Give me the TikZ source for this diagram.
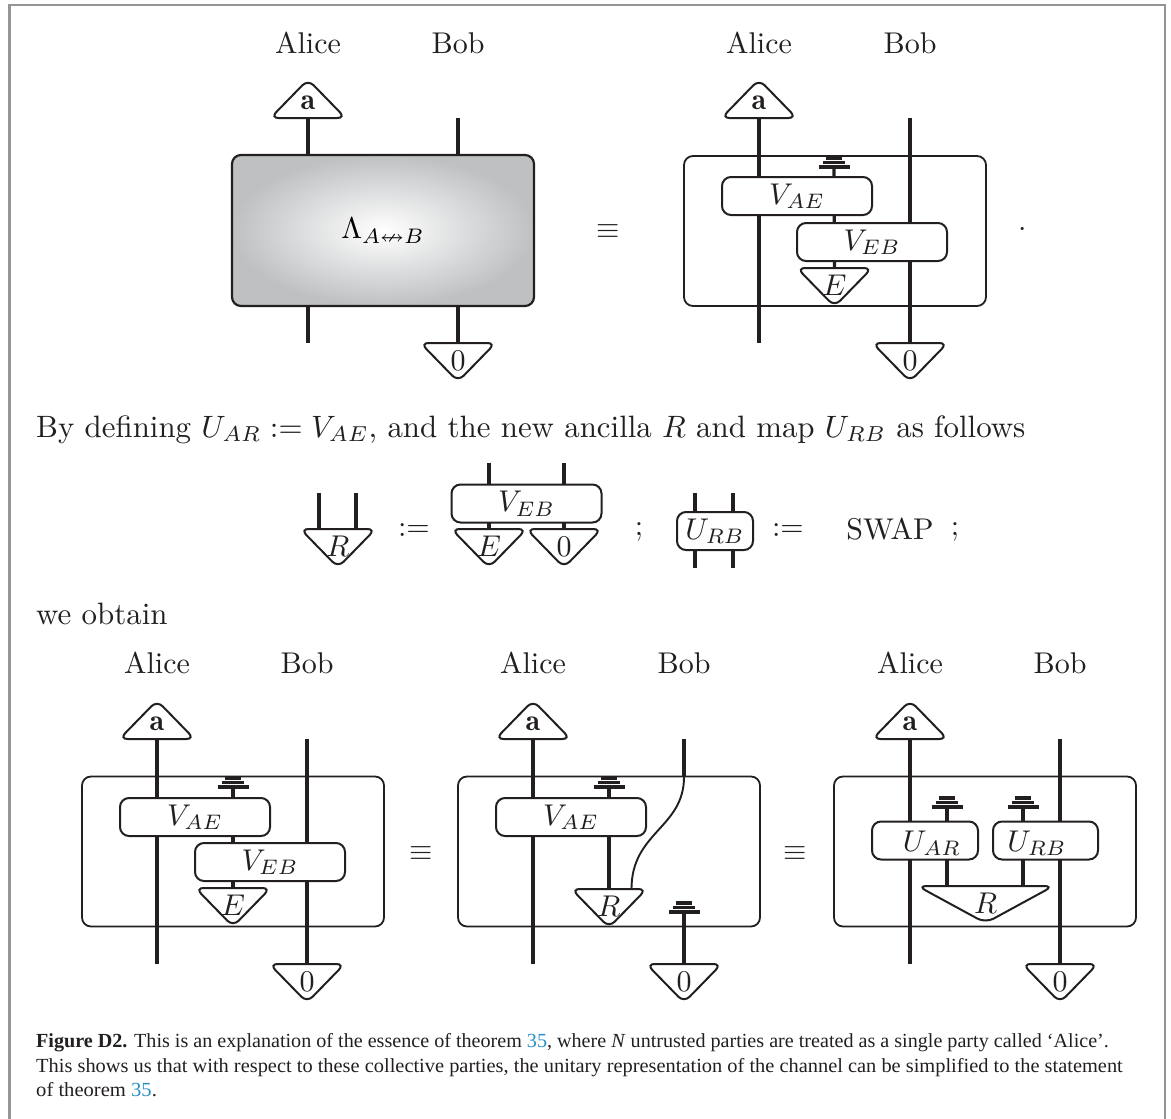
\documentclass[tikz,border=0pt]{standalone}
\usepackage{graphicx}
\usepackage{amsmath,amssymb}
\usepackage{fontspec}
\usetikzlibrary{backgrounds,calc}
\newfontfamily\capfont{Liberation Serif}
\definecolor{ink}{HTML}{231F20}
\definecolor{framegray}{HTML}{959595}
\definecolor{linkblue}{HTML}{2A8FC4}
\definecolor{shadegray}{HTML}{BEC0C2}
\newcommand{\Tx}[1]{\scalebox{3}{#1}}
\newcommand{\TxL}[1]{\scalebox{3.09}{#1}}
\tikzset{
  wire/.style={draw=ink,line width=3.2pt},
  thinwire/.style={draw=ink,line width=1.9pt},
  txt/.style={inner sep=0pt,text=ink},
  outerbox/.style={draw=ink,line width=1.8pt,rounded corners=9pt,minimum width=302pt,minimum height=150pt,inner sep=0pt},
  gatebox/.style={draw=ink,line width=2pt,fill=white,rounded corners=9pt,minimum width=150pt,minimum height=38pt,inner sep=0pt,text=ink},
  tripath/.style={draw=ink,line width=2pt,fill=white,rounded corners=8pt},
  gndbar/.style={draw=ink,line width=3.1pt},
  capline/.style={inner sep=0pt,anchor=base west,text=ink},
}
% down triangle: base centre named #1
\newcommand{\Dn}[4]{% name, x, y, text
  \coordinate (#1) at (#2,#3);
  \path[tripath] (#2-37.5,#3) -- (#2+37.5,#3) -- (#2,#3+38.5) -- cycle;
  \node[txt] (#1-t) at (#2,#3+17.5) {\Tx{#4}};
}
% up triangle: base centre named #1
\newcommand{\Up}[4]{%
  \coordinate (#1) at (#2,#3);
  \path[tripath] (#2-37.5,#3) -- (#2+37.5,#3) -- (#2,#3-38.5) -- cycle;
  \node[txt] (#1-t) at (#2,#3-15) {\Tx{#4}};
}
% ground: top of its stem named #1
\newcommand{\Gnd}[3]{%
  \coordinate (#1) at (#2,#3);
  \path[gndbar] (#2-15.5,#3) -- (#2+15.5,#3);
  \path[gndbar] (#2-11,#3-4.5) -- (#2+11,#3-4.5);
  \path[gndbar] (#2-8,#3-9) -- (#2+8,#3-9);
}
\begin{document}
\begin{tikzpicture}[x=1pt,y=-1pt]
\useasboundingbox (0,0) rectangle (1171,1119);
% page frame
\path[draw=framegray,line width=2.2pt] (9.5,1125) -- (9.5,5) -- (1165,5) -- (1165,1125);

%% ---- top left panel
\node[txt] (tlA) at (308,43) {\Tx{Alice}};
\node[txt] (tlB) at (458,43) {\Tx{Bob}};
\Up{tla}{308}{118}{$\mathbf{a}$}
\coordinate (tlbt) at (458,118);
\node[outerbox,minimum width=302pt,minimum height=151pt,draw=ink,line width=2.2pt,inner color=white,outer color=shadegray] (tlbox) at (383,230.5) {\Tx{$\Lambda_{A\nleftrightarrow B}$}};
\coordinate (tlab) at (308,343);
\Dn{tl0}{458}{343}{0}
\begin{scope}[on background layer]
\path[wire] (tla) -- (tla |- tlbox.north);
\path[wire] (tlbt) -- (tlbt |- tlbox.north);
\path[wire] (tlab |- tlbox.south) -- (tlab);
\path[wire] (tl0 |- tlbox.south) -- (tl0);
\end{scope}
\node[txt] (eq1) at (608,232) {\Tx{$\equiv$}};

%% ---- top right panel
\node[txt] (trA) at (759,43) {\Tx{Alice}};
\node[txt] (trB) at (910,43) {\Tx{Bob}};
\node[outerbox] (trframe) at (835,231) {};
\Up{tra}{759}{118}{$\mathbf{a}$}
\coordinate (trab) at (759,343);
\coordinate (trbt) at (910,118);
\Dn{tr0}{910}{343}{0}
\Gnd{trg}{834}{167}
\node[gatebox] (trV1) at (797,196) {\Tx{$V_{AE}$}};
\node[gatebox] (trV2) at (872,242) {\Tx{$V_{EB}$}};
\Dn{trE}{834.5}{268}{$E$}
\begin{scope}[on background layer]
\path[wire] (tra) -- (trab);
\path[wire] (trbt) -- (tr0);
\path[wire] (trg) -- (trE);
\end{scope}
\node[txt] (dot) at (1023,230) {\Tx{$\cdot$}};

%% ---- text
\node[txt,anchor=base west] (line1) at (36,437) {\TxL{By defining $U_{AR} := V_{AE}$, and the new ancilla $R$ and map $U_{RB}$ as follows}};

%% ---- definition row
\coordinate (rl) at (319,493);
\coordinate (rr) at (356,493);
\Dn{rT}{338}{529}{$R$}
\node[txt] (as1) at (414,530) {\Tx{$:=$}};
\node[gatebox] (dV) at (526.5,503.5) {\Tx{$V_{EB}$}};
\coordinate (dl) at (489,463);
\coordinate (dr) at (564,463);
\Dn{dE}{489}{529}{$E$}
\Dn{d0}{564}{529}{0}
\node[txt] (sc1) at (639,532) {\Tx{;}};
\node[gatebox,minimum width=76pt,minimum height=38pt] (dU) at (715,531) {\Tx{$U_{RB}$}};
\coordinate (utl) at (695,493);
\coordinate (utr) at (733,493);
\coordinate (ubl) at (695,568);
\coordinate (ubr) at (733,568);
\node[txt] (as2) at (788,530) {\Tx{$:=$}};
\node[txt] (swap) at (890,529) {\Tx{SWAP}};
\node[txt] (sc2) at (955,532) {\Tx{;}};
\begin{scope}[on background layer]
\path[wire] (rl) -- (rl |- rT);
\path[wire] (rr) -- (rr |- rT);
\path[wire] (dl) -- (dE);
\path[wire] (dr) -- (d0);
\path[wire] (utl) -- (ubl);
\path[wire] (utr) -- (ubr);
\end{scope}

\node[txt,anchor=base west] (line2) at (36,624) {\TxL{we obtain}};

%% ---- bottom panel A
\node[txt] (aA) at (157,663) {\Tx{Alice}};
\node[txt] (aB) at (307,663) {\Tx{Bob}};
\node[outerbox] (aframe) at (233,851.5) {};
\Up{aa}{157}{739}{$\mathbf{a}$}
\coordinate (aab) at (157,964);
\coordinate (abt) at (307,739);
\Dn{a0}{307}{964}{0}
\Gnd{ag}{233}{787}
\node[gatebox] (aV1) at (195,817) {\Tx{$V_{AE}$}};
\node[gatebox] (aV2) at (270,862) {\Tx{$V_{EB}$}};
\Dn{aE}{233}{888}{$E$}
\begin{scope}[on background layer]
\path[wire] (aa) -- (aab);
\path[wire] (abt) -- (a0);
\path[wire] (ag) -- (aE);
\end{scope}
\node[txt] (eq2) at (421,854) {\Tx{$\equiv$}};

%% ---- bottom panel B
\node[txt] (bA) at (533,663) {\Tx{Alice}};
\node[txt] (bB) at (684,663) {\Tx{Bob}};
\node[outerbox] (bframe) at (609,851.5) {};
\Up{ba}{533}{739}{$\mathbf{a}$}
\coordinate (bab) at (533,964);
\coordinate (bbt) at (684,739);
\coordinate (bbm) at (684,777);
\coordinate (bbr) at (631.5,889);
\Gnd{bg}{609}{787}
\node[gatebox] (bV1) at (571,817) {\Tx{$V_{AE}$}};
\Dn{bR}{609}{889}{$R$}
\Gnd{bg2}{684}{912}
\Dn{b0}{684}{964}{0}
\begin{scope}[on background layer]
\path[wire] (ba) -- (bab);
\path[wire] (bbt) -- (bbm);
\path[thinwire] (bbm) .. controls (684,828) and (631.5,832) .. (bbr);
\path[wire] (bg) -- (bR);
\path[wire] (bg2) -- (b0);
\end{scope}
\node[txt] (eq3) at (795,854) {\Tx{$\equiv$}};

%% ---- bottom panel C
\node[txt] (cA) at (910,663) {\Tx{Alice}};
\node[txt] (cB) at (1060,663) {\Tx{Bob}};
\node[outerbox] (cframe) at (985,851.5) {};
\Up{ca}{910}{739}{$\mathbf{a}$}
\coordinate (cab) at (910,964);
\coordinate (cbt) at (1060,739);
\Dn{c0}{1060}{964}{0}
\Gnd{cg1}{947}{807}
\Gnd{cg2}{1023}{807}
\node[gatebox,minimum width=106pt,minimum height=38pt] (cU1) at (925,840.5) {};
\node[gatebox,minimum width=105pt,minimum height=38pt] (cU2) at (1045.5,840.5) {};
\node[txt] (cU1t) at (932,843) {\Tx{$U_{AR}$}};
\node[txt] (cU2t) at (1037,843) {\Tx{$U_{RB}$}};
\coordinate (cR1) at (947,886);
\coordinate (cR2) at (1023,886);
\path[tripath,rounded corners=9pt] (917.5,886) -- (1053.5,886) -- (985.5,923) -- cycle;
\node[txt] (cRt) at (985.5,903) {\Tx{$R$}};
\begin{scope}[on background layer]
\path[wire] (ca) -- (cab);
\path[wire] (cbt) -- (c0);
\path[wire] (cg1) -- (cR1);
\path[wire] (cg2) -- (cR2);
\end{scope}

%% ---- caption
\node[capline] (cap1) at (36,1047) {\capfont\fontsize{20}{24}\selectfont\scalebox{1.006}[1]{\textbf{Figure D2.} This is an explanation of the essence of theorem \textcolor{linkblue}{35}, where \textit{N} untrusted parties are treated as a single party called ‘Alice’.}};
\node[capline] (cap2) at (36,1072) {\capfont\fontsize{20}{24}\selectfont\scalebox{1.02}[1]{This shows us that with respect to these collective parties, the unitary representation of the channel can be simplified to the statement}};
\node[capline] (cap3) at (36,1096) {\capfont\fontsize{20}{24}\selectfont\scalebox{1.03}[1]{of theorem \textcolor{linkblue}{35}.}};
\end{tikzpicture}
\end{document}
